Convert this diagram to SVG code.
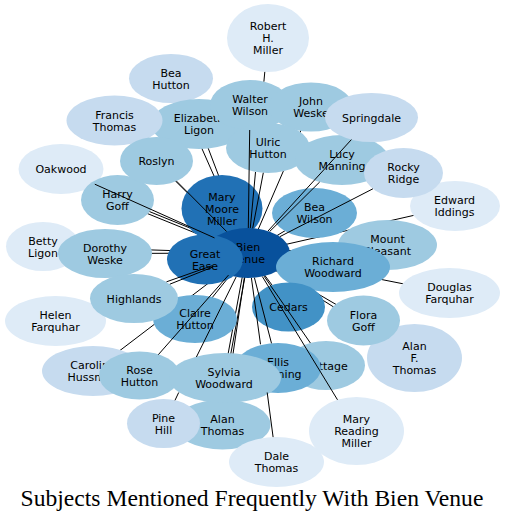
<svg xmlns="http://www.w3.org/2000/svg" width="505" height="522" viewBox="0 0 505 522">
<style>
.c1{fill:#deebf7}.c2{fill:#c6dbef}.c3{fill:#9ecae1}.c4{fill:#6baed6}.c5{fill:#4292c6}.c6{fill:#2171b5}.c7{fill:#08519c}
text{font-family:"DejaVu Sans","Noto Sans",sans-serif;font-size:11px;fill:#000;text-anchor:middle}
.e{stroke:#000;stroke-width:1;fill:none}
.title{font-family:"Liberation Serif","Times New Roman",serif;font-size:23.6px}
</style>
<rect width="505" height="522" fill="#fff"/>
<g id="connectors-under" class="e">
<path d="M248,253L114.5,120.5"/>
<path d="M248,253L171,78.5"/>
<path d="M248,253L199,124"/>
<path d="M248,253L311,107"/>
<path d="M248,253L222,208.5"/>
<path d="M248,253L314.5,213"/>
<path d="M248,253L455,206"/>
<path d="M248,253L387.5,245"/>
<path d="M248,253L333,267"/>
<path d="M248,253L449.5,293"/>
<path d="M248,253L288.5,307"/>
<path d="M248,253L363.5,320.5"/>
<path d="M248,253L414.5,358"/>
<path d="M248,253L205,259.5"/>
<path d="M248,253L43,246.5"/>
<path d="M248,253L105,253.5"/>
<path d="M247.5,254.2L117,201.2"/>
<path d="M248.5,251.8L118,198.8"/>
<path d="M248,253L93,371"/>
<path d="M248,253L195,319"/>
<path d="M249.3,253.2L226.3,378.2"/>
<path d="M246.7,252.8L223.7,377.8"/>
<path d="M248,253L222.5,424.5"/>
</g>
<g id="robert"><ellipse class="c1" cx="268" cy="38" rx="41" ry="34"/><text x="268" y="30">Robert</text><text x="268" y="42">H.</text><text x="268" y="54">Miller</text></g>
<g id="beahutton"><ellipse class="c2" cx="171" cy="78.5" rx="42" ry="24.5"/><text x="171" y="76.5">Bea</text><text x="171" y="88.5">Hutton</text></g>
<g id="elizabeth"><ellipse class="c3" cx="199" cy="124" rx="48" ry="25"/><text x="199" y="122">Elizabeth</text><text x="199" y="134">Ligon</text></g>
<g id="francis"><ellipse class="c2" cx="114.5" cy="120.5" rx="48" ry="25"/><text x="114.5" y="118.5">Francis</text><text x="114.5" y="130.5">Thomas</text></g>
<g id="walter"><ellipse class="c3" cx="250" cy="105" rx="40" ry="25"/><text x="250" y="103">Walter</text><text x="250" y="115">Wilson</text></g>
<g id="john"><ellipse class="c3" cx="311" cy="107" rx="42" ry="24.5"/><text x="311" y="105">John</text><text x="311" y="117">Weske</text></g>
<g id="ulric"><ellipse class="c3" cx="268" cy="148" rx="42" ry="25"/><text x="268" y="146">Ulric</text><text x="268" y="158">Hutton</text></g>
<g id="lucy"><ellipse class="c3" cx="342" cy="160" rx="47" ry="25"/><text x="342" y="158">Lucy</text><text x="342" y="170">Manning</text></g>
<g id="springdale"><ellipse class="c2" cx="371.5" cy="117.5" rx="46.5" ry="24.5"/><text x="371.5" y="121.5">Springdale</text></g>
<g id="edward"><ellipse class="c1" cx="455" cy="206" rx="45" ry="25"/><text x="454.5" y="204">Edward</text><text x="454.5" y="216">Iddings</text></g>
<g id="rocky"><ellipse class="c2" cx="403.5" cy="173" rx="39.5" ry="25"/><text x="403.5" y="171">Rocky</text><text x="403.5" y="183">Ridge</text></g>
<g id="oakwood"><ellipse class="c1" cx="61" cy="169" rx="42.5" ry="25"/><text x="61" y="173">Oakwood</text></g>
<g id="harry"><ellipse class="c3" cx="117.5" cy="200" rx="36.5" ry="25"/><text x="117.5" y="198">Harry</text><text x="117.5" y="210">Goff</text></g>
<g id="roslyn"><ellipse class="c3" cx="156.5" cy="161" rx="36.5" ry="24"/><text x="156.5" y="165">Roslyn</text></g>
<g id="marymoore"><ellipse class="c6" cx="222" cy="208.5" rx="40.5" ry="33.5"/><text x="222" y="200.5">Mary</text><text x="222" y="212.5">Moore</text><text x="222" y="224.5">Miller</text></g>
<g id="beawilson"><ellipse class="c4" cx="314.5" cy="213" rx="42.5" ry="25"/><text x="314.5" y="211">Bea</text><text x="314.5" y="223">Wilson</text></g>
<g id="betty"><ellipse class="c1" cx="43" cy="246.5" rx="37" ry="24.5"/><text x="43" y="244.5">Betty</text><text x="43" y="256.5">Ligon</text></g>
<g id="dorothy"><ellipse class="c3" cx="105" cy="253.5" rx="47" ry="24.5"/><text x="105" y="251.5">Dorothy</text><text x="105" y="263.5">Weske</text></g>
<g id="bienvenue"><ellipse class="c7" cx="248" cy="253" rx="42" ry="25"/><text x="248" y="251">Bien</text><text x="248" y="263">Venue</text></g>
<g id="greatease"><ellipse class="c6" cx="205" cy="259.5" rx="38" ry="25"/><text x="205" y="257.5">Great</text><text x="205" y="269.5">Ease</text></g>
<g id="mountpleasant"><ellipse class="c3" cx="387.5" cy="245" rx="49.5" ry="25"/><text x="387.5" y="243">Mount</text><text x="387.5" y="255">Pleasant</text></g>
<g id="richard"><ellipse class="c4" cx="333" cy="267" rx="57" ry="25"/><text x="333" y="265">Richard</text><text x="333" y="277">Woodward</text></g>
<g id="cedars"><ellipse class="c5" cx="288.5" cy="307" rx="36.5" ry="24.5"/><text x="288.5" y="311">Cedars</text></g>
<g id="douglas"><ellipse class="c1" cx="449.5" cy="293" rx="50.5" ry="25"/><text x="449.5" y="291">Douglas</text><text x="449.5" y="303">Farquhar</text></g>
<g id="helen"><ellipse class="c1" cx="55.5" cy="321" rx="50.5" ry="25"/><text x="55.5" y="319">Helen</text><text x="55.5" y="331">Farquhar</text></g>
<g id="claire"><ellipse class="c4" cx="195" cy="319" rx="42" ry="24"/><text x="195" y="317">Claire</text><text x="195" y="329">Hutton</text></g>
<g id="highlands"><ellipse class="c3" cx="134" cy="298.5" rx="44" ry="24.5"/><text x="134" y="302.5">Highlands</text></g>
<g id="alanf"><ellipse class="c2" cx="414.5" cy="358" rx="47.5" ry="34"/><text x="414.5" y="350">Alan</text><text x="414.5" y="362">F.</text><text x="414.5" y="374">Thomas</text></g>
<g id="flora"><ellipse class="c3" cx="363.5" cy="320.5" rx="36.5" ry="25"/><text x="363.5" y="318.5">Flora</text><text x="363.5" y="330.5">Goff</text></g>
<g id="caroline"><ellipse class="c2" cx="93" cy="371" rx="51" ry="25"/><text x="93" y="369">Caroline</text><text x="93" y="381">Hussman</text></g>
<g id="rose"><ellipse class="c3" cx="139.5" cy="375.5" rx="40.5" ry="24"/><text x="139.5" y="373.5">Rose</text><text x="139.5" y="385.5">Hutton</text></g>
<g id="cottage"><ellipse class="c3" cx="326" cy="365.5" rx="39" ry="24.5"/><text x="326" y="369.5">Cottage</text></g>
<g id="ellis"><ellipse class="c4" cx="278" cy="368" rx="43" ry="25"/><text x="278" y="366">Ellis</text><text x="278" y="378">Manning</text></g>
<g id="alanthomas"><ellipse class="c3" cx="222.5" cy="424.5" rx="48" ry="25"/><text x="222.5" y="422.5">Alan</text><text x="222.5" y="434.5">Thomas</text></g>
<g id="sylvia"><ellipse class="c3" cx="225" cy="378" rx="56" ry="25"/><text x="224" y="376">Sylvia</text><text x="224" y="388">Woodward</text></g>
<g id="pinehill"><ellipse class="c2" cx="163.5" cy="423.5" rx="36.5" ry="24.5"/><text x="163.5" y="421.5">Pine</text><text x="163.5" y="433.5">Hill</text></g>
<g id="maryreading"><ellipse class="c1" cx="356.5" cy="431" rx="47.5" ry="34"/><text x="356.5" y="423">Mary</text><text x="356.5" y="435">Reading</text><text x="356.5" y="447">Miller</text></g>
<g id="dale"><ellipse class="c1" cx="276.5" cy="462" rx="47.5" ry="25"/><text x="276.5" y="460">Dale</text><text x="276.5" y="472">Thomas</text></g>
<g id="connectors-over" class="e">
<path d="M94.8,184.2L214.5,237.9"/>
<path d="M176.5,181.1L226.6,231.5"/>
<path d="M249.7,130L248.3,228"/>
<path d="M264.8,71.9L263.9,81.6M255.5,172L250.3,228"/>
<path d="M263.3,172.8L252.7,228.2"/>
<path d="M351.4,139.6L268,231"/>
<path d="M319.7,182L269.6,231.6"/>
<path d="M372.9,188.8L279.8,236.7"/>
<path d="M169.8,284.2L213.1,266.9"/>
<path d="M166.5,281.8L211.9,265.8"/>
<path d="M158.3,354.7L228.5,275.1"/>
<path d="M236.1,277L196.4,357M178.7,392.5L175,400.3"/>
<path d="M254.4,277.7L271.5,343.3"/>
<path d="M251.4,277.9L260.5,344.3M267.2,392.5L273.1,437.1"/>
<path d="M264,276.1L310.4,343"/>
<path d="M262.3,276.5L337.5,399.8"/>
</g>
<text class="title" x="252" y="506">Subjects Mentioned Frequently With Bien Venue</text>
</svg>
